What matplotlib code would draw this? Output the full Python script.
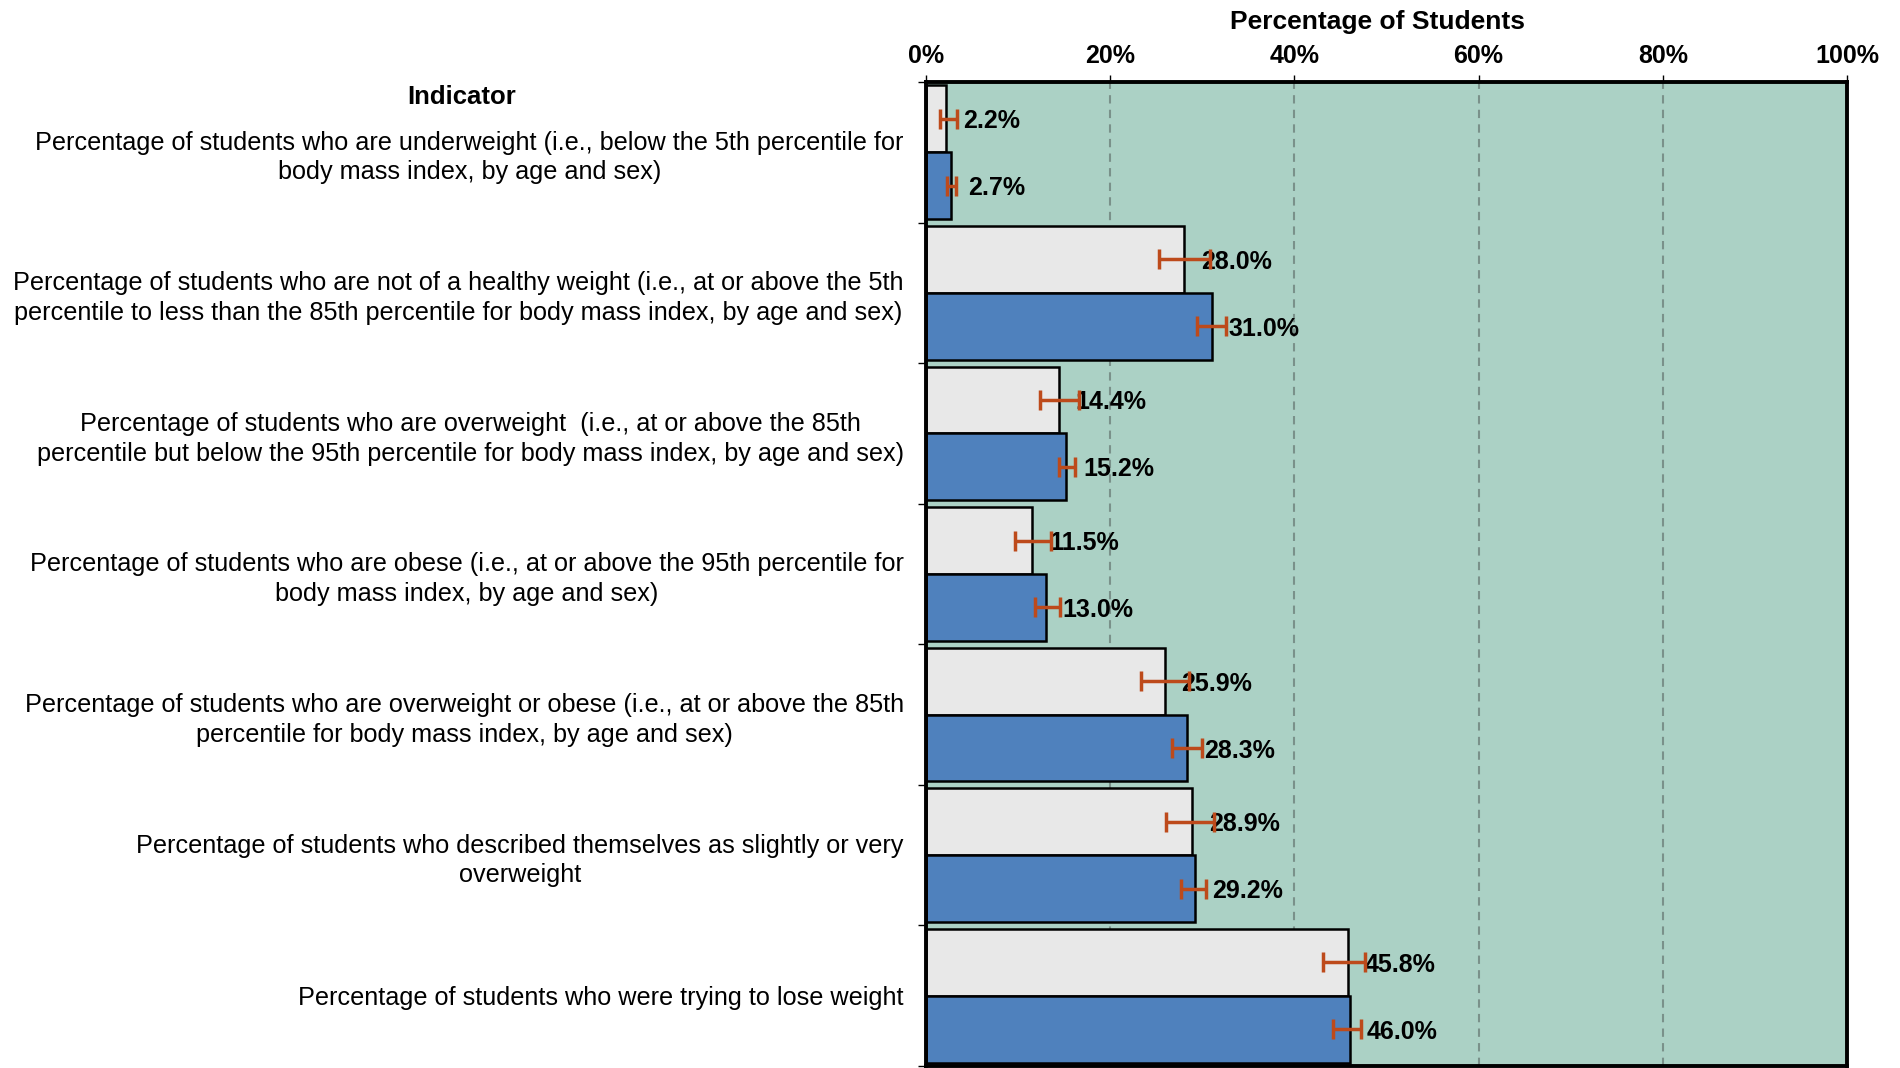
import matplotlib
matplotlib.use("Agg")
import matplotlib.pyplot as plt
import numpy as np
from matplotlib.ticker import FixedLocator, PercentFormatter

plt.rcParams['font.family'] = ['Liberation Sans', 'DejaVu Sans']

categories = [
    "Percentage of students who are underweight (i.e., below the 5th percentile for\nbody mass index, by age and sex)",
    "Percentage of students who are not of a healthy weight (i.e., at or above the 5th\npercentile to less than the 85th percentile for body mass index, by age and sex)",
    "Percentage of students who are overweight  (i.e., at or above the 85th\npercentile but below the 95th percentile for body mass index, by age and sex)",
    "Percentage of students who are obese (i.e., at or above the 95th percentile for\nbody mass index, by age and sex)",
    "Percentage of students who are overweight or obese (i.e., at or above the 85th\npercentile for body mass index, by age and sex)",
    "Percentage of students who described themselves as slightly or very\noverweight",
    "Percentage of students who were trying to lose weight",
]
gray_vals = [2.2, 28.0, 14.4, 11.5, 25.9, 28.9, 45.8]
gray_lo = [1.5, 25.3, 12.4, 9.7, 23.3, 26.1, 43.1]
gray_hi = [3.4, 30.8, 16.6, 13.6, 28.6, 31.3, 47.7]
blue_vals = [2.7, 31.0, 15.2, 13.0, 28.3, 29.2, 46.0]
blue_lo = [2.3, 29.4, 14.4, 11.8, 26.7, 27.7, 44.2]
blue_hi = [3.3, 32.6, 16.2, 14.5, 30.0, 30.4, 47.2]
xticks = [0, 20, 40, 60, 80, 100]

fig = plt.figure(figsize=(19, 10.68), dpi=100)
ax = fig.add_axes([926/1900, 1-1066/1068, (1847-926)/1900, (1066-82)/1068])
ax.set_facecolor('#ABD1C5')

n = len(categories)
y = np.arange(n)
h = 0.476
off = 0.238
err_col = '#BD4A1B'

ax.barh(y - off, gray_vals, height=h, color='#E8E8E8', edgecolor='black', linewidth=1.8, zorder=2)
ax.barh(y + off, blue_vals, height=h, color='#4F81BD', edgecolor='black', linewidth=1.8, zorder=2)

g = np.array(gray_vals); b = np.array(blue_vals)
ax.errorbar(g, y - off, xerr=[g - np.array(gray_lo), np.array(gray_hi) - g], fmt='none',
            ecolor=err_col, elinewidth=2.5, capsize=7, capthick=2.5, zorder=5)
ax.errorbar(b, y + off, xerr=[b - np.array(blue_lo), np.array(blue_hi) - b], fmt='none',
            ecolor=err_col, elinewidth=2.5, capsize=7, capthick=2.5, zorder=5)

for yy, v in zip(y - off, gray_vals):
    ax.annotate(f"{v:.1f}%", (v, yy), xytext=(12.3, 0), textcoords='offset points',
                ha='left', va='center_baseline', fontsize=18, fontweight='bold', zorder=4)
for yy, v in zip(y + off, blue_vals):
    ax.annotate(f"{v:.1f}%", (v, yy), xytext=(12.3, 0), textcoords='offset points',
                ha='left', va='center_baseline', fontsize=18, fontweight='bold', zorder=4)

ax.set_xlim(0, 100)
ax.set_ylim(n - 0.5, -0.5)

ax.xaxis.tick_top()
ax.xaxis.set_label_position('top')
ax.set_xticks(xticks)
ax.xaxis.set_major_formatter(PercentFormatter(decimals=0))
ax.tick_params(axis='x', which='major', length=5, width=1, pad=5, labelsize=18)
for lab in ax.get_xticklabels():
    lab.set_fontweight('bold')

ax.set_yticks(y)
ax.set_yticklabels(categories, fontsize=18.2, multialignment='center', linespacing=1.3)
ax.tick_params(axis='y', which='major', length=0, pad=16)
ax.yaxis.set_minor_locator(FixedLocator(np.arange(n + 1) - 0.5))
ax.tick_params(axis='y', which='minor', length=6, width=1)

for x in [20, 40, 60, 80]:
    ax.axvline(x, color='#7A918A', linestyle=(0, (4, 3)), linewidth=1.5, zorder=1)

for s in ax.spines.values():
    s.set_linewidth(2.8)
    s.set_color('black')
    s.set_zorder(6)

fig.text(1378/1900, 1-22/1068, "Percentage of Students", ha='center', va='center',
         fontsize=19, fontweight='bold')
fig.text(462/1900, 1-97/1068, "Indicator", ha='center', va='center',
         fontsize=18.5, fontweight='bold')

fig.savefig('out.png', dpi=100)
